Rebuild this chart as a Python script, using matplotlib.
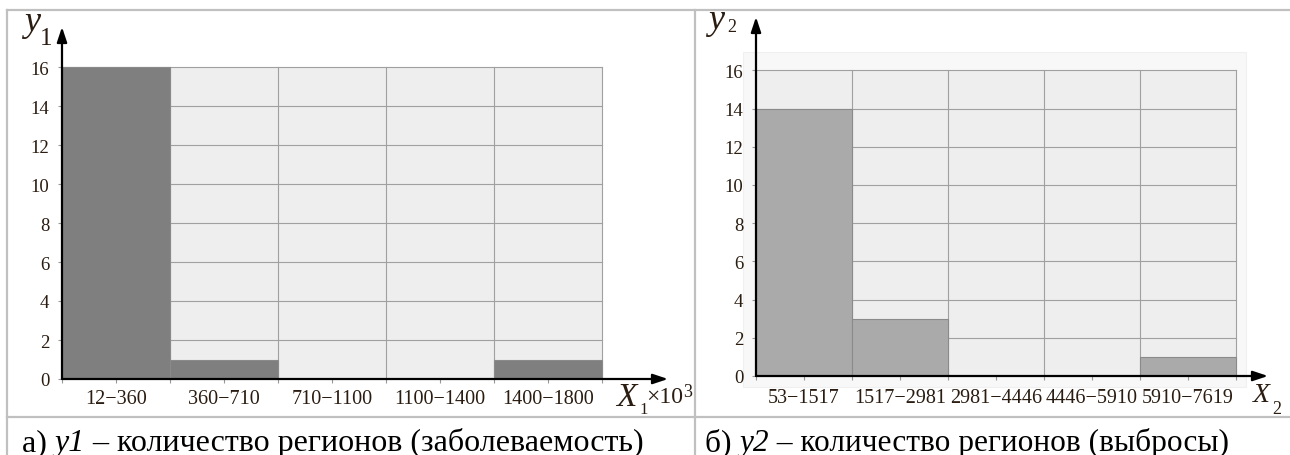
import numpy as np
import matplotlib
matplotlib.use("Agg")
import matplotlib.pyplot as plt
from matplotlib.patches import Rectangle
from matplotlib.lines import Line2D

plt.rcParams['font.family'] = ['Liberation Serif', 'DejaVu Serif']

# data
bins1 = ['12−360', '360−710', '710−1100', '1100−1400', '1400−1800']
y1 = [16, 1, 0, 0, 1]
bins2 = ['53−1517', '1517−2981', '2981−4446', '4446−5910', '5910−7619']
y2 = [14, 3, 0, 0, 1]
yticks = list(range(0, 17, 2))

W, H = 1290, 456
fig = plt.figure(figsize=(W / 100, H / 100), dpi=100)
renderer = fig.canvas.get_renderer()

TXT = '#2a1c10'


def fx(px):
    return px / W


def fy(py):
    return 1 - py / H


def rect_px(x0, x1, ytop, ybot):
    return [x0 / W, 1 - ybot / H, (x1 - x0) / W, (ybot - ytop) / H]


def panel(x0, xtip, ytip, y0, unit_x, unit_y, labels, vals, barcolor, xpad):
    xmax = (xtip - x0) / unit_x
    ymax = (y0 - ytip) / unit_y
    ax = fig.add_axes(rect_px(x0, xtip, ytip, y0))
    ax.set_xlim(0, xmax)
    ax.set_ylim(0, ymax)
    ax.patch.set_visible(False)
    for s in ax.spines.values():
        s.set_visible(False)
    n = len(vals)
    top = yticks[-1]
    ax.add_patch(Rectangle((0, 0), n, top, fc='#eeeeee', ec='none', zorder=0))
    for yy in yticks[1:]:
        ax.plot([0, n], [yy, yy], color='#a0a0a0', lw=0.8, zorder=1)
    for xx in range(1, n + 1):
        ax.plot([xx, xx], [0, top], color='#a0a0a0', lw=0.8, zorder=1)
    ax.bar(np.arange(n), vals, width=1, align='edge', color=barcolor,
           edgecolor='#8a8a8a', lw=0.8, zorder=2)
    # axes drawn as arrows
    style = '-|>,head_length=0.9,head_width=0.3'
    ax.annotate('', xy=(xmax, 0), xytext=(0, 0), annotation_clip=False,
                arrowprops=dict(arrowstyle=style, color='black', lw=1.6,
                                shrinkA=0, shrinkB=0), zorder=4)
    ax.annotate('', xy=(0, ymax), xytext=(0, 0), annotation_clip=False,
                arrowprops=dict(arrowstyle=style, color='black', lw=1.6,
                                shrinkA=0, shrinkB=0), zorder=4)
    ax.set_yticks(yticks)
    ax.set_yticklabels([str(v) for v in yticks])
    ax.set_xticks(np.arange(n) + 0.5)
    ax.set_xticklabels(labels)
    ax.set_xticks(np.arange(0, n + 0.01, 1), minor=True)
    ax.tick_params(axis='y', length=3, width=0.8, color='#999999', pad=6,
                   labelsize=13.5, labelcolor=TXT)
    ax.tick_params(axis='x', which='both', length=3, width=0.8, color='#999999',
                   pad=xpad, labelsize=14.5, labelcolor=TXT)
    return ax


def caption(x, baseline, pieces, target_w):
    # pick the size so the whole line is target_w pixels wide
    probe = []
    for s, st in pieces:
        t = fig.text(0, 0, s, style=st, fontsize=10)
        probe.append(t.get_window_extent(renderer).width)
        t.remove()
    size = 10 * target_w / sum(probe)
    cx = x
    for s, st in pieces:
        t = fig.text(fx(cx), fy(baseline), s, style=st, fontsize=size,
                     va='baseline', color='black')
        cx += t.get_window_extent(renderer).width


# faint frame behind the right chart
fig.patches.append(Rectangle((fx(743), fy(388)), (1246 - 743) / W, (388 - 53) / H,
                             transform=fig.transFigure, fc='#f8f8f8', ec='#f0f0f0',
                             lw=0.8, zorder=-1))

panel(62, 668, 28, 380, 108, 19.5, bins1, y1, '#7f7f7f', 4)
panel(756, 1268, 18, 377, 96, 19.1, bins2, y2, '#aaaaaa', 6)

# table borders
bc = '#c0c0c0'
for xs, ys in [([7, W], [11, 11]), ([7, W], [418, 418]),
               ([7, 7], [11, H]), ([695, 695], [11, H])]:
    fig.add_artist(Line2D([fx(v) for v in xs], [fy(v) for v in ys],
                          color=bc, lw=1.6, transform=fig.transFigure, zorder=5))

# axis labels
fig.text(fx(24), fy(31), 'y', style='italic', fontsize=26, color=TXT)
fig.text(fx(40), fy(45), '1', fontsize=18, color=TXT)
fig.text(fx(616), fy(406), 'X', style='italic', fontsize=24, color=TXT)
fig.text(fx(639), fy(414), '1', fontsize=12, color=TXT)
t10 = fig.text(fx(646), fy(403), '×10', fontsize=17, color=TXT)
fig.text(fx(646 + t10.get_window_extent(renderer).width), fy(397), '3',
         fontsize=13, color=TXT)

fig.text(fx(708), fy(29), 'y', style='italic', fontsize=26, color=TXT)
fig.text(fx(727), fy(32), '2', fontsize=13, color=TXT)
fig.text(fx(1253), fy(402), 'X', style='italic', fontsize=20, color=TXT)
fig.text(fx(1272), fy(414), '2', fontsize=13, color=TXT)

# captions
caption(22, 451, [('а) ', 'normal'), ('y1', 'italic'),
                  (' – количество регионов (заболеваемость)', 'normal')], 623)
caption(705, 451, [('б) ', 'normal'), ('y2', 'italic'),
                   (' – количество регионов (выбросы)', 'normal')], 523)

fig.savefig('out.png', dpi=100)
